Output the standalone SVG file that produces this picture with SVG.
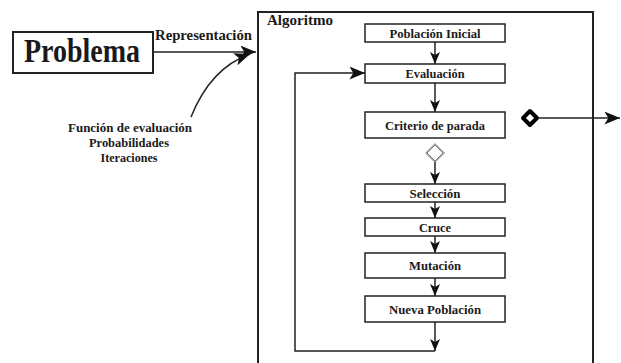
<svg xmlns="http://www.w3.org/2000/svg" width="621" height="363" viewBox="0 0 621 363">
<defs>
<style>
.t{font-family:"Liberation Serif","Times New Roman",serif;font-weight:bold;fill:#1a1a1a;}
.box{fill:#fff;stroke:#222;stroke-width:1.5;}
.ln{fill:none;stroke:#222;stroke-width:1.5;}
</style>
<marker id="ah" viewBox="0 0 12 10" refX="12" refY="5" markerWidth="12" markerHeight="11" orient="auto" markerUnits="userSpaceOnUse">
<path d="M0,0 L12,5 L0,10 L3,5 z" fill="#111"/>
</marker>
<marker id="ahb" viewBox="0 0 12 10" refX="12" refY="5" markerWidth="16" markerHeight="13" orient="auto" markerUnits="userSpaceOnUse">
<path d="M0,0 L12,5 L0,10 L3,5 z" fill="#111"/>
</marker>
</defs>
<rect width="621" height="363" fill="#fff"/>

<g id="algoritmo">
<path d="M258,375 L258,12 L593,12 L593,375" fill="none" stroke="#222" stroke-width="2"/>
<text class="t" x="267" y="25" font-size="14.5" textLength="66" lengthAdjust="spacingAndGlyphs">Algoritmo</text>
</g>

<g id="problema">
<rect x="13" y="32" width="140" height="41" fill="#fff" stroke="#222" stroke-width="2"/>
<text class="t" x="82" y="62" font-size="33" text-anchor="middle" textLength="116" lengthAdjust="spacingAndGlyphs">Problema</text>
</g>

<g id="parametros">
<text class="t" x="130" y="132" font-size="12.5" text-anchor="middle" textLength="124" lengthAdjust="spacingAndGlyphs">Función de evaluación</text>
<text class="t" x="129" y="147" font-size="12.5" text-anchor="middle" textLength="80" lengthAdjust="spacingAndGlyphs">Probabilidades</text>
<text class="t" x="129" y="162" font-size="12.5" text-anchor="middle" textLength="57" lengthAdjust="spacingAndGlyphs">Iteraciones</text>
</g>

<g id="poblacion-inicial">
<rect class="box" x="365" y="24" width="140" height="18"/>
<text class="t" x="435" y="37.5" font-size="13" text-anchor="middle" textLength="91" lengthAdjust="spacingAndGlyphs">Población Inicial</text>
</g>
<g id="evaluacion">
<rect class="box" x="365" y="64" width="140" height="19"/>
<text class="t" x="435" y="77.5" font-size="13" text-anchor="middle" textLength="59" lengthAdjust="spacingAndGlyphs">Evaluación</text>
</g>
<g id="criterio">
<rect class="box" x="365" y="112" width="140" height="26"/>
<text class="t" x="435" y="129.5" font-size="13" text-anchor="middle" textLength="100" lengthAdjust="spacingAndGlyphs">Criterio de parada</text>
</g>
<g id="seleccion">
<rect class="box" x="365" y="184" width="140" height="18"/>
<text class="t" x="435" y="197.5" font-size="13" text-anchor="middle" textLength="51" lengthAdjust="spacingAndGlyphs">Selección</text>
</g>
<g id="cruce">
<rect class="box" x="365" y="218" width="140" height="18"/>
<text class="t" x="435" y="231.5" font-size="13" text-anchor="middle" textLength="32" lengthAdjust="spacingAndGlyphs">Cruce</text>
</g>
<g id="mutacion">
<rect class="box" x="365" y="253" width="140" height="25"/>
<text class="t" x="435" y="270" font-size="13" text-anchor="middle" textLength="52" lengthAdjust="spacingAndGlyphs">Mutación</text>
</g>
<g id="nueva-poblacion">
<rect class="box" x="365" y="296" width="140" height="26"/>
<text class="t" x="435" y="313.5" font-size="13" text-anchor="middle" textLength="92" lengthAdjust="spacingAndGlyphs">Nueva Población</text>
</g>

<g id="decision-gris">
<polygon points="435,145 443,153 435,161 427,153" fill="#fff" stroke="#aaa" stroke-width="3"/>
<polygon points="435,145 443,153 435,161 427,153" fill="#fff" stroke="#777" stroke-width="1"/>
</g>
<g id="decision-negra">
<polygon points="530,111 537,118 530,125 523,118" fill="#fff" stroke="#000" stroke-width="4" stroke-linejoin="round"/>
</g>

<g id="conectores">
<text class="t" x="155" y="40" font-size="14.5" textLength="97" lengthAdjust="spacingAndGlyphs">Representación</text>
<line class="ln" x1="153" y1="52" x2="256" y2="52" marker-end="url(#ahb)"/>
<path class="ln" d="M191,117 C203,87 222,64 250,54" marker-end="url(#ahb)"/>
<line class="ln" x1="435" y1="42" x2="435" y2="64" marker-end="url(#ah)"/>
<line class="ln" x1="435" y1="83" x2="435" y2="112" marker-end="url(#ah)"/>
<line class="ln" x1="435" y1="162" x2="435" y2="184" marker-end="url(#ah)"/>
<line class="ln" x1="435" y1="202" x2="435" y2="218" marker-end="url(#ah)"/>
<line class="ln" x1="435" y1="236" x2="435" y2="253" marker-end="url(#ah)"/>
<line class="ln" x1="435" y1="278" x2="435" y2="296" marker-end="url(#ah)"/>
<line class="ln" x1="435" y1="322" x2="435" y2="351" marker-end="url(#ah)"/>
<path class="ln" d="M435,351 L295,351 L295,73 L365,73" marker-end="url(#ahb)"/>
<line class="ln" x1="538" y1="118" x2="620" y2="118" marker-end="url(#ahb)"/>
</g>
</svg>
